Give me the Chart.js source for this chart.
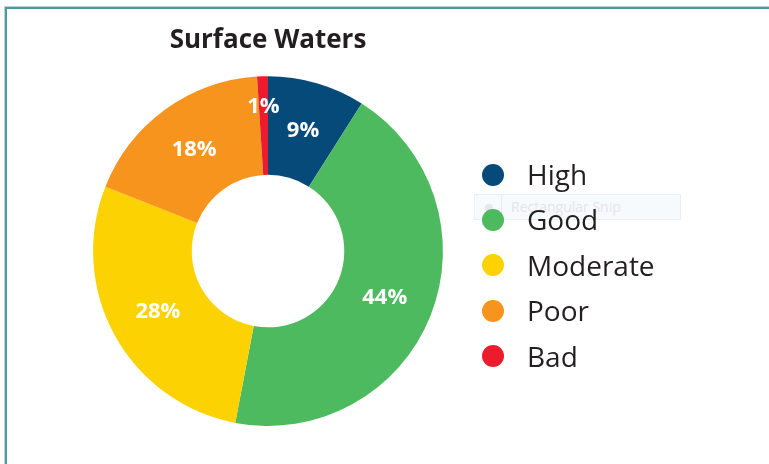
<!DOCTYPE html>
<html lang="en">
<head>
<meta charset="utf-8" />
<title>Surface Waters</title>
<script src="https://cdn.jsdelivr.net/npm/chart.js@4.4.1/dist/chart.umd.min.js"></script>
<style>
  html, body {
    margin: 0;
    padding: 0;
    background: #ffffff;
  }
  body {
    width: 769px;
    height: 464px;
    position: relative;
    overflow: hidden;
    font-family: "Open Sans", "Liberation Sans", sans-serif;
  }
  .frame {
    position: absolute;
    left: 5px;
    top: 7px;
    width: 780px;
    height: 480px;
    border-top: 2px solid #4d9aa3;
    border-left: 2px solid #4d9aa3;
    box-shadow: -1px -1px 0 #bcd3d6;
  }
  #chart-wrap {
    position: absolute;
    left: 0;
    top: 0;
    width: 769px;
    height: 464px;
  }
  .snip {
    position: absolute;
    left: 474px;
    top: 194px;
    width: 207px;
    height: 26px;
    background: rgba(242, 246, 252, 0.6);
    border: 1px solid rgba(226, 234, 244, 0.7);
    box-sizing: border-box;
  }
  .snip .dot {
    position: absolute;
    left: 10px;
    top: 9px;
    width: 8px;
    height: 8px;
    border-radius: 50%;
    background: #e4e6e8;
  }
  .snip .sep {
    position: absolute;
    left: 26px;
    top: 0;
    width: 1px;
    height: 24px;
    background: rgba(226, 234, 244, 0.9);
  }
  .snip span {
    position: absolute;
    left: 36px;
    top: 3px;
    font-size: 14px;
    line-height: 18px;
    color: #e4e5e7;
  }
  .legend {
    position: absolute;
    left: 482px;
    top: 152px;
    margin: 0;
    padding: 0;
    list-style: none;
  }
  .legend li {
    display: flex;
    align-items: center;
    height: 45.4px;
    font-size: 28px;
    line-height: 45.4px;
    color: #231f20;
  }
  .legend .swatch {
    width: 22px;
    height: 22px;
    border-radius: 50%;
    margin-right: 23px;
    flex: none;
  }
</style>
</head>
<body>
<div class="frame"></div>
<div class="snip"><div class="dot"></div><div class="sep"></div><span>Rectangular Snip</span></div>
<div id="chart-wrap"><canvas id="myChart" width="769" height="464"></canvas></div>
<ul class="legend"></ul>

<script>
const categories = ["High", "Good", "Moderate", "Poor", "Bad"];
const shares = [9, 44, 28, 18, 1];
const sliceColors = ["#064a7a", "#4dba5f", "#fdd203", "#f7941d", "#ed1b2e"];

// percentage labels drawn in the middle of each ring segment
const sliceLabels = {
  id: "sliceLabels",
  afterDatasetsDraw(chart) {
    const ctx = chart.ctx;
    const meta = chart.getDatasetMeta(0);
    ctx.save();
    ctx.fillStyle = "#ffffff";
    ctx.font = "bold 22px 'Open Sans'";
    ctx.textAlign = "center";
    ctx.textBaseline = "middle";
    meta.data.forEach((arc, i) => {
      const p = arc.getProps(["x", "y", "startAngle", "endAngle", "innerRadius", "outerRadius"], true);
      const mid = (p.startAngle + p.endAngle) / 2;
      let r = (p.innerRadius + p.outerRadius) / 2;
      // very thin slices get their label pushed toward the rim
      if (shares[i] < 3) {
        r = p.outerRadius - 30;
      }
      ctx.fillText(shares[i] + "%", p.x + Math.cos(mid) * r, p.y + Math.sin(mid) * r);
    });
    ctx.restore();
  },
};

document.addEventListener("DOMContentLoaded", () => {
  const ctx = document.getElementById("myChart").getContext("2d");
  const myChart = new Chart(ctx, {
    type: "doughnut",
    data: {
      labels: categories,
      datasets: [
        {
          data: shares,
          backgroundColor: sliceColors,
          borderWidth: 0,
        },
      ],
    },
    options: {
      responsive: false,
      animation: false,
      cutout: "43.6%",
      layout: {
        padding: { top: 8, left: 93, right: 326, bottom: 38 },
      },
      plugins: {
        legend: { display: false },
        tooltip: { enabled: false },
        title: {
          display: true,
          text: "Surface Waters",
          fullSize: false,
          color: "#231f20",
          font: { family: "'Open Sans'", size: 26, weight: "bold", lineHeight: 1.2 },
          padding: { top: 17, bottom: 20 },
        },
      },
    },
    plugins: [sliceLabels],
  });

  // legend list built from the chart's own labels and colours
  const legendList = document.querySelector(".legend");
  myChart.data.labels.forEach((label, i) => {
    const item = document.createElement("li");
    item.innerHTML = `<span class="swatch" style="background:${sliceColors[i]}"></span>${label}`;
    legendList.appendChild(item);
  });
});
</script>
</body>
</html>
